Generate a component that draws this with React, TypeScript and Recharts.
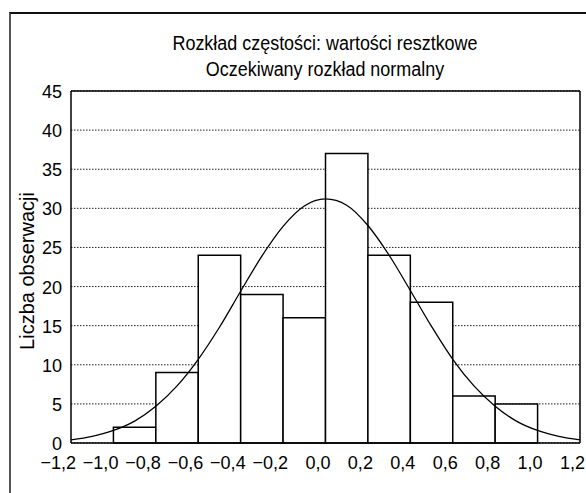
import {
  ComposedChart,
  Line,
  XAxis,
  YAxis,
  CartesianGrid,
  ReferenceArea,
} from 'recharts'

const FONT = "'Liberation Sans', Arial, sans-serif"

// histogram bins (lower edge, upper edge) and counts
const binStart = [-1.0, -0.8, -0.6, -0.4, -0.2, 0.0, 0.2, 0.4, 0.6, 0.8]
const binEnd = [-0.8, -0.6, -0.4, -0.2, 0.0, 0.2, 0.4, 0.6, 0.8, 1.0]
const counts = [2, 9, 24, 19, 16, 37, 24, 18, 6, 5]

// expected normal curve
const curveX = [
  -1.2, -1.1, -1.0, -0.9, -0.8, -0.7, -0.6, -0.5, -0.4, -0.3, -0.2, -0.1, 0.0,
  0.1, 0.2, 0.3, 0.4, 0.5, 0.6, 0.7, 0.8, 0.9, 1.0, 1.1, 1.2,
]
const curveY = [
  0.4, 0.85, 1.6, 2.8, 4.7, 7.3, 10.7, 14.8, 19.4, 23.9, 27.7, 30.3, 31.2,
  30.4, 27.8, 24.0, 19.5, 14.9, 10.7, 7.3, 4.7, 2.8, 1.6, 0.85, 0.4,
]

const xTicks = [-1.2, -1.0, -0.8, -0.6, -0.4, -0.2, 0.0, 0.2, 0.4, 0.6, 0.8, 1.0, 1.2]
const yTicks = [0, 5, 10, 15, 20, 25, 30, 35, 40, 45]

const titleLines = ['Rozkład częstości: wartości resztkowe', 'Oczekiwany rozkład normalny']
const yLabel = 'Liczba obserwacji'

const fmtX = (v: number) => v.toFixed(1).replace('.', ',').replace('-', '\u2212')

// narrow-looking labels: the original uses a condensed face
const XTick = (props: any) => {
  const { x, y, payload } = props
  return (
    <text
      transform={`translate(${x + 5},${y + 18}) scale(0.95,1)`}
      textAnchor="end"
      fill="#000"
      fontSize={19}
      fontFamily={FONT}
    >
      {fmtX(payload.value)}
    </text>
  )
}

const YTick = (props: any) => {
  const { x, y, payload } = props
  return (
    <text
      transform={`translate(${x},${y + 7}) scale(0.95,1)`}
      textAnchor="end"
      fill="#000"
      fontSize={19}
      fontFamily={FONT}
    >
      {payload.value}
    </text>
  )
}

export default function App() {
  const data = curveX.map((x, i) => ({ x, y: curveY[i] }))

  return (
    <div style={{ position: 'absolute', left: 0, top: 0, width: 586, height: 493, background: '#fff' }}>
      {/* outer frame */}
      <div
        style={{
          position: 'absolute',
          left: 9,
          top: 12,
          width: 577,
          height: 481,
          borderTop: '2px solid #111',
          borderLeft: '2px solid #555',
          boxSizing: 'border-box',
        }}
      />
      {titleLines.map((t, i) => (
        <div
          key={t}
          style={{
            position: 'absolute',
            left: 75,
            width: 500,
            top: 33 + i * 26,
            textAlign: 'center',
            fontFamily: FONT,
            fontSize: 19.5,
            lineHeight: '20px',
            color: '#000',
            transform: 'scaleX(0.92)',
            whiteSpace: 'nowrap',
          }}
        >
          {t}
        </div>
      ))}
      <div
        style={{
          position: 'absolute',
          left: 27 - 100,
          top: 271 - 10,
          width: 200,
          height: 20,
          lineHeight: '20px',
          textAlign: 'center',
          transform: 'rotate(-90deg)',
          fontFamily: FONT,
          fontSize: 20,
          color: '#000',
          whiteSpace: 'nowrap',
        }}
      >
        {yLabel}
      </div>
      <div style={{ position: 'absolute', left: 0, top: 0 }}>
        <ComposedChart
          width={586}
          height={493}
          data={data}
          margin={{ top: 91, right: 6, bottom: 0, left: 70 }}
        >
          <CartesianGrid horizontal vertical={false} stroke="#222" strokeDasharray="1.5 1.5" />
          <XAxis
            dataKey="x"
            type="number"
            domain={[-1.2, 1.2]}
            ticks={xTicks}
            allowDataOverflow
            tickLine={false}
            tickSize={0}
            tickMargin={8}
            height={50}
            axisLine={{ stroke: '#000', strokeWidth: 1.5 }}
            tick={<XTick />}
            interval={0}
          />
          <XAxis
            xAxisId="top"
            orientation="top"
            type="number"
            domain={[-1.2, 1.2]}
            ticks={xTicks}
            allowDataOverflow
            mirror
            height={1}
            tick={false}
            tickSize={5}
            tickLine={{ stroke: '#000' }}
            axisLine={{ stroke: '#000', strokeWidth: 1.5 }}
          />
          <YAxis
            type="number"
            domain={[0, 45]}
            ticks={yTicks}
            allowDataOverflow
            width={1}
            tickLine={false}
            tickSize={0}
            tickMargin={9}
            interval={0}
            axisLine={{ stroke: '#000', strokeWidth: 1.5 }}
            tick={<YTick />}
          />
          <YAxis
            yAxisId="right"
            orientation="right"
            type="number"
            domain={[0, 45]}
            ticks={yTicks}
            allowDataOverflow
            mirror
            width={1}
            tick={false}
            tickSize={5}
            tickLine={{ stroke: '#000' }}
            axisLine={{ stroke: '#000', strokeWidth: 1.5 }}
          />
          {counts.map((c, i) => (
            <ReferenceArea
              key={i}
              x1={binStart[i]}
              x2={binEnd[i]}
              y1={0}
              y2={c}
              fill="#fff"
              fillOpacity={1}
              stroke="#000"
              strokeWidth={1.5}
            />
          ))}
          <Line
            dataKey="y"
            type="monotone"
            stroke="#000"
            strokeWidth={1.3}
            dot={false}
            activeDot={false}
            isAnimationActive={false}
          />
        </ComposedChart>
      </div>
    </div>
  )
}
